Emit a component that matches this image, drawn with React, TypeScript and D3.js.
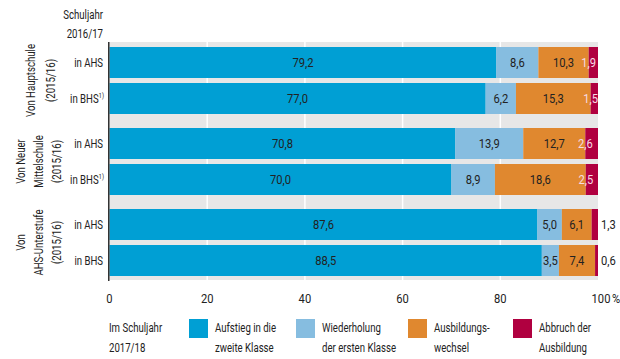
import React from "react";
import * as d3 from "d3";

// --- Data ---
const GROUP_LINES = [
  ["Von Hauptschule", "(2015/16)"],
  ["Von Neuer", "Mittelschule", "(2015/16)"],
  ["Von", "AHS-Unterstufe", "(2015/16)"],
];
const ROW_LABELS = ["in AHS", "in BHS"];
const BHS_FOOTNOTE = [true, true, false];
const SERIES = ["Aufstieg", "Wiederholung", "Wechsel", "Abbruch"];
const AUFSTIEG = [79.2, 77.0, 70.8, 70.0, 87.6, 88.5];
const WIEDERHOLUNG = [8.6, 6.2, 13.9, 8.9, 5.0, 3.5];
const WECHSEL = [10.3, 15.3, 12.7, 18.6, 6.1, 7.4];
const ABBRUCH = [1.9, 1.5, 2.6, 2.5, 1.3, 0.6];
const TICKS = [0, 20, 40, 60, 80, 100];
const LEGEND_LINES = [
  ["Aufstieg in die", "zweite Klasse"],
  ["Wiederholung", "der ersten Klasse"],
  ["Ausbildungs-", "wechsel"],
  ["Abbruch der", "Ausbildung"],
];

// --- Layout / style ---
const W = 620;
const H = 359;
const FONT = "Roboto, 'DejaVu Sans', sans-serif";
const COLORS = ["#009fd4", "#86bde0", "#e0882f", "#b00040"];
const BG = "#e7e7e7";
const TEXT = "#222";
const FS = 13;
const SX_TXT = 0.74; // the original font is a condensed face
const SX_NUM = 0.86;
const LEGEND_X = [189, 296, 408, 513];

const fmt = (v: number) => d3.format(".1f")(v).replace(".", ",");

// condensed text helper
function T({
  x,
  y,
  anchor = "start",
  sx = SX_TXT,
  rotate = 0,
  fill = TEXT,
  dy,
  children,
}: any) {
  return (
    <g transform={`translate(${x},${y}) rotate(${rotate}) scale(${sx},1)`}>
      <text textAnchor={anchor} fontSize={FS} fill={fill} dy={dy}>
        {children}
      </text>
    </g>
  );
}

export default function App() {
  const x = d3.scaleLinear().domain([0, 100]).range([109.5, 598]);
  const yGroup = d3.scaleBand<number>().domain([0, 1, 2]).range([47, 290]);
  const yRow = d3
    .scaleBand<number>()
    .domain([0, 1])
    .range([0, 67])
    .paddingInner(5 / 36);

  const rows = AUFSTIEG.map((_, i) => ({
    Aufstieg: AUFSTIEG[i],
    Wiederholung: WIEDERHOLUNG[i],
    Wechsel: WECHSEL[i],
    Abbruch: ABBRUCH[i],
  }));
  const stacked = d3.stack<any>().keys(SERIES)(rows);

  const rowY = (i: number) => yGroup(Math.floor(i / 2))! + yRow(i % 2)!;
  const bh = yRow.bandwidth();

  return (
    <svg
      width={W}
      height={H}
      style={{ position: "absolute", left: 0, top: 0, fontFamily: FONT }}
    >
      {/* plot background */}
      <rect x={108} y={42} width={x(100) - 108} height={238} fill={BG} />
      {TICKS.filter((t) => t > 0 && t < 100).map((t) => (
        <line
          key={t}
          x1={x(t)}
          x2={x(t)}
          y1={42}
          y2={280}
          stroke="#fff"
          strokeWidth={1.5}
        />
      ))}

      {/* bars */}
      {stacked.map((layer, si) =>
        layer.map((d, i) => (
          <rect
            key={`${si}-${i}`}
            x={x(d[0])}
            y={rowY(i)}
            width={x(d[1]) - x(d[0])}
            height={bh}
            fill={COLORS[si]}
          />
        ))
      )}

      <line x1={108.75} x2={108.75} y1={42} y2={281} stroke="#333" strokeWidth={1.5} />

      {/* value labels */}
      {stacked.map((layer, si) =>
        layer.map((d, i) => {
          const v = d[1] - d[0];
          const cy = rowY(i) + bh / 2;
          if (si < 3) {
            return (
              <T
                key={`l${si}-${i}`}
                x={(x(d[0]) + x(d[1])) / 2}
                y={cy}
                dy="0.36em"
                anchor="middle"
                sx={SX_NUM}
              >
                {fmt(v)}
              </T>
            );
          }
          const inside = v >= 1.4;
          return (
            <T
              key={`l${si}-${i}`}
              x={inside ? x(d[0]) : x(100) + 3}
              y={cy}
              dy="0.36em"
              anchor={inside ? "middle" : "start"}
              sx={SX_NUM}
              fill={inside ? "#f6dbe4" : TEXT}
            >
              {fmt(v)}
            </T>
          );
        })
      )}

      {/* row labels */}
      {AUFSTIEG.map((_, i) => {
        const g = Math.floor(i / 2);
        const r = i % 2;
        const foot = r === 1 && BHS_FOOTNOTE[g];
        return (
          <T key={`r${i}`} x={foot ? 104 : 103} y={rowY(i) + bh / 2} dy="0.36em" anchor="end">
            {ROW_LABELS[r]}
            {foot ? (
              <tspan fontSize={8} dy="-0.6em">
                1)
              </tspan>
            ) : null}
          </T>
        );
      })}

      {/* group labels (rotated) */}
      {GROUP_LINES.map((lines, g) => {
        const cy = yGroup(g)! + 67 / 2;
        const base = lines.length === 2 ? [35, 55] : [25, 43, 61];
        return lines.map((t, k) => (
          <T key={`g${g}-${k}`} x={base[k]} y={cy} rotate={-90} anchor="middle">
            {t}
          </T>
        ));
      })}

      {/* header */}
      <T x={103} y={19} anchor="end">
        Schuljahr
      </T>
      <T x={103} y={38} anchor="end">
        2016/17
      </T>

      {/* x ticks */}
      {TICKS.map((t) => (
        <T key={`t${t}`} x={t === 100 ? x(t) + 3 : x(t)} y={303} anchor="middle" sx={SX_NUM}>
          {t}
        </T>
      ))}
      <T x={612} y={303} sx={SX_NUM}>
        %
      </T>

      {/* legend */}
      <T x={109} y={332}>
        Im Schuljahr
      </T>
      <T x={109} y={352}>
        2017/18
      </T>
      {LEGEND_LINES.map((lines, i) => (
        <g key={`lg${i}`}>
          <rect x={LEGEND_X[i]} y={319} width={19} height={19} fill={COLORS[i]} />
          {lines.map((t, k) => (
            <T key={k} x={LEGEND_X[i] + 26} y={332 + k * 20}>
              {t}
            </T>
          ))}
        </g>
      ))}
    </svg>
  );
}
